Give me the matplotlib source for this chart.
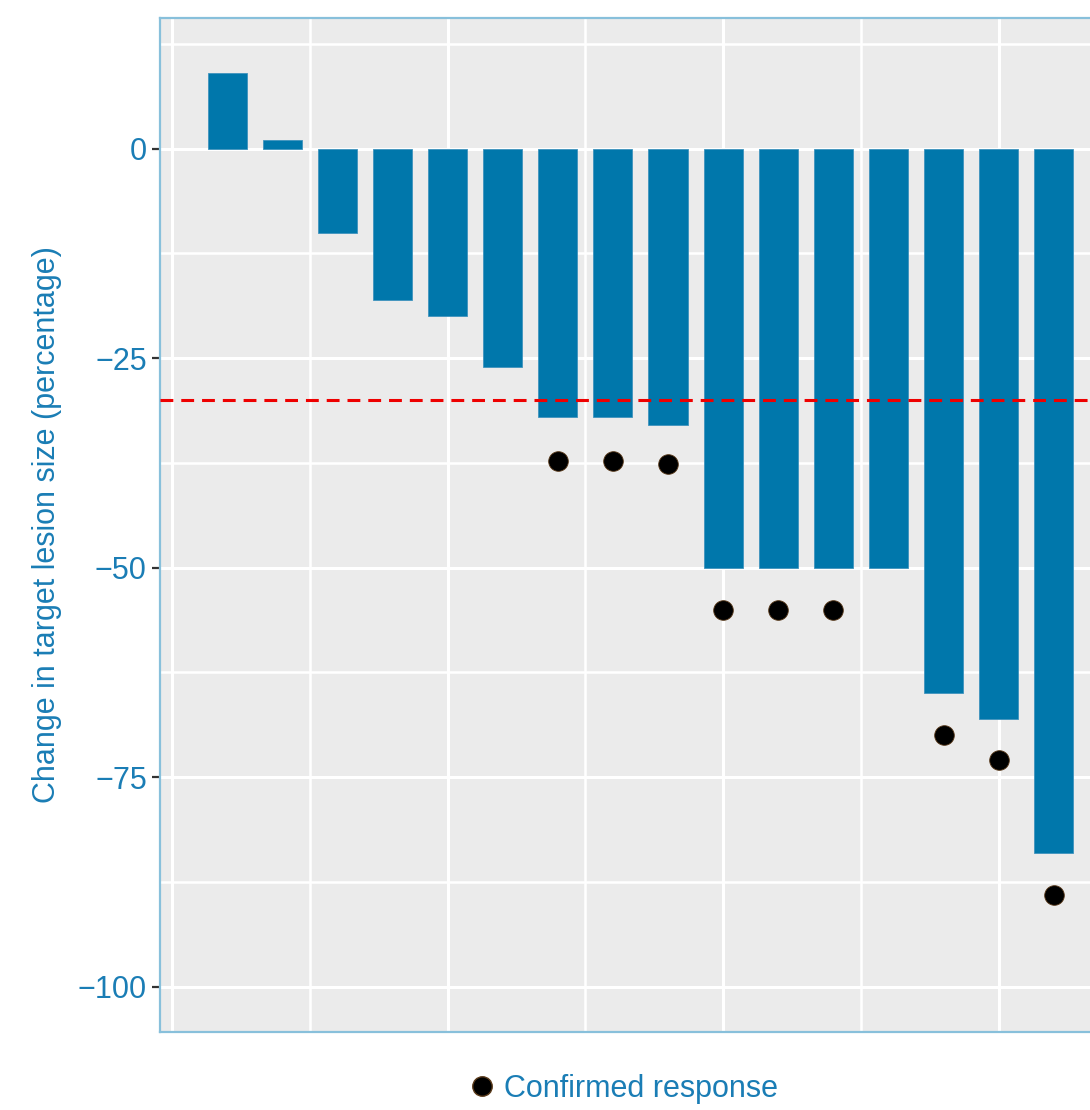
import matplotlib
matplotlib.use('Agg')

import matplotlib.pyplot as plt
from matplotlib.lines import Line2D

# Waterfall data: best change in target lesion size per patient (%)
patients = list(range(1, 17))
change = [9, 1, -10, -18, -20, -26, -32, -32, -33, -50, -50, -50, -50, -65, -68, -84]
# Patients with a confirmed response and where their marker sits
resp_patients = [7, 8, 9, 10, 11, 12, 14, 15, 16]
resp_marker_y = [-37.3, -37.3, -37.6, -55, -55, -55, -70, -73, -89]
threshold = -30

BAR = "#0077ab"
TEXT = "#1a7db5"
PANEL = "#ebebeb"
BORDER = "#88c0db"

plt.rcParams['font.family'] = ['Liberation Sans', 'DejaVu Sans']

fig = plt.figure(figsize=(10.9, 11.1), dpi=100)
W, H = 1090, 1110
# panel runs off the right edge of the figure
left_px, right_px, top_px, bottom_px = 160, 1160, 18, 1032
ax = fig.add_axes([left_px / W, 1 - bottom_px / H,
                   (right_px - left_px) / W, (bottom_px - top_px) / H])
ax.set_facecolor(PANEL)

ax.set_xlim(-0.22, -0.22 + (right_px - left_px) / 55.1)
ax.set_ylim(-105.4, 15.6)

# grid: majors + minors, ggplot-like
ax.set_xticks([0, 5, 10, 15])
ax.set_xticks([2.5, 7.5, 12.5, 17.5], minor=True)
ax.set_yticks([0, -25, -50, -75, -100])
ax.set_yticks([12.5, -12.5, -37.5, -62.5, -87.5], minor=True)
ax.grid(True, which='major', color='white', linewidth=2.2)
ax.grid(True, which='minor', color='white', linewidth=1.8)
ax.set_axisbelow(True)

ax.bar(patients, change, width=0.71, color=BAR, edgecolor="#3f93bd",
       linewidth=0.6, zorder=2)

ax.scatter(resp_patients, resp_marker_y, s=200, color='black', edgecolors='#5a3a1a',
           linewidths=0.6, zorder=3)

ax.axhline(threshold, color='#ee0000', linewidth=2.2, dashes=(4.2, 2.6), zorder=4)

ax.set_yticklabels(['0', '\u221225', '\u221250', '\u221275', '\u2212100'])
ax.tick_params(axis='y', which='major', colors='#333333', length=5.5, width=1.6,
               labelsize=22, labelcolor=TEXT, pad=4)
ax.tick_params(axis='y', which='minor', length=0)
ax.tick_params(axis='x', which='both', length=0, labelbottom=False)

for side in ['left', 'top', 'bottom']:
    ax.spines[side].set_color(BORDER)
    ax.spines[side].set_linewidth(1.6)
ax.spines['right'].set_visible(False)

fig.text(47 / W, 1 - 525 / H, "Change in target lesion size (percentage)",
         rotation=90, ha='center', va='center', fontsize=22, color=TEXT)

handle = Line2D([], [], linestyle='none', marker='o', markersize=14,
                markerfacecolor='black', markeredgecolor='#5a3a1a')
fig.legend(handles=[handle], labels=["Confirmed response"], loc='center',
           bbox_to_anchor=(621 / W, 1 - 1089 / H), frameon=False, fontsize=22,
           labelcolor=TEXT, handletextpad=0.1, handlelength=1.2)

fig.savefig("out.png", dpi=100)
